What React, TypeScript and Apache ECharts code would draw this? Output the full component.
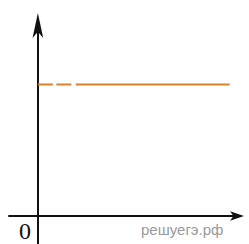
import React, { useEffect, useRef } from "react";
import * as echarts from "echarts";

const xRange = [-1, 7];
const yRange = [-1, 7];
const levelValue = 4.7;
const dashedPart = [
  [0, levelValue],
  [1.19, levelValue],
];
const solidPart = [
  [1.31, levelValue],
  [6.64, levelValue],
];
const originLabel = "0";
const watermark = "решуегэ.рф";

export default function App() {
  const ref = useRef<HTMLDivElement>(null);
  useEffect(() => {
    if (!ref.current) return;
    const chart = echarts.init(ref.current, null, { renderer: "svg" });
    const lineColor = "#d6822d";
    chart.setOption({
      animation: false,
      backgroundColor: "#ffffff",
      grid: { left: 9, right: 9, top: 20, bottom: 0, containLabel: false },
      xAxis: {
        type: "value",
        min: xRange[0],
        max: xRange[1],
        axisLine: {
          show: true,
          onZero: true,
          symbol: ["none", "arrow"],
          symbolSize: [7, 14],
          symbolOffset: [0, 4],
          lineStyle: { color: "#111", width: 2 },
        },
        axisTick: { show: false },
        axisLabel: { show: false },
        splitLine: { show: false },
      },
      yAxis: {
        type: "value",
        min: yRange[0],
        max: yRange[1],
        axisLine: {
          show: true,
          onZero: true,
          symbol: ["none", "arrow"],
          symbolSize: [8, 25],
          symbolOffset: [0, 7],
          lineStyle: { color: "#111", width: 2 },
        },
        axisTick: { show: false },
        axisLabel: { show: false },
        splitLine: { show: false },
      },
      series: [
        {
          type: "line",
          data: dashedPart,
          showSymbol: false,
          symbol: "none",
          lineStyle: { color: lineColor, width: 2, type: [15, 3.5], cap: "butt" },
        },
        {
          type: "line",
          data: solidPart,
          showSymbol: false,
          symbol: "none",
          lineStyle: { color: lineColor, width: 2, cap: "butt" },
        },
      ],
      graphic: [
        {
          type: "text",
          left: 19,
          top: 219,
          style: {
            text: originLabel,
            font: '24px "Liberation Serif", "Times New Roman", serif',
            fill: "#111",
          },
        },
        {
          type: "text",
          left: 141,
          top: 222,
          style: {
            text: watermark,
            font: '15px "Liberation Sans", Arial, sans-serif',
            fill: "#9a9a9a",
          },
        },
      ],
    });
    return () => chart.dispose();
  }, []);
  return (
    <div
      ref={ref}
      style={{ position: "fixed", left: 0, top: 0, width: 249, height: 244 }}
    />
  );
}
